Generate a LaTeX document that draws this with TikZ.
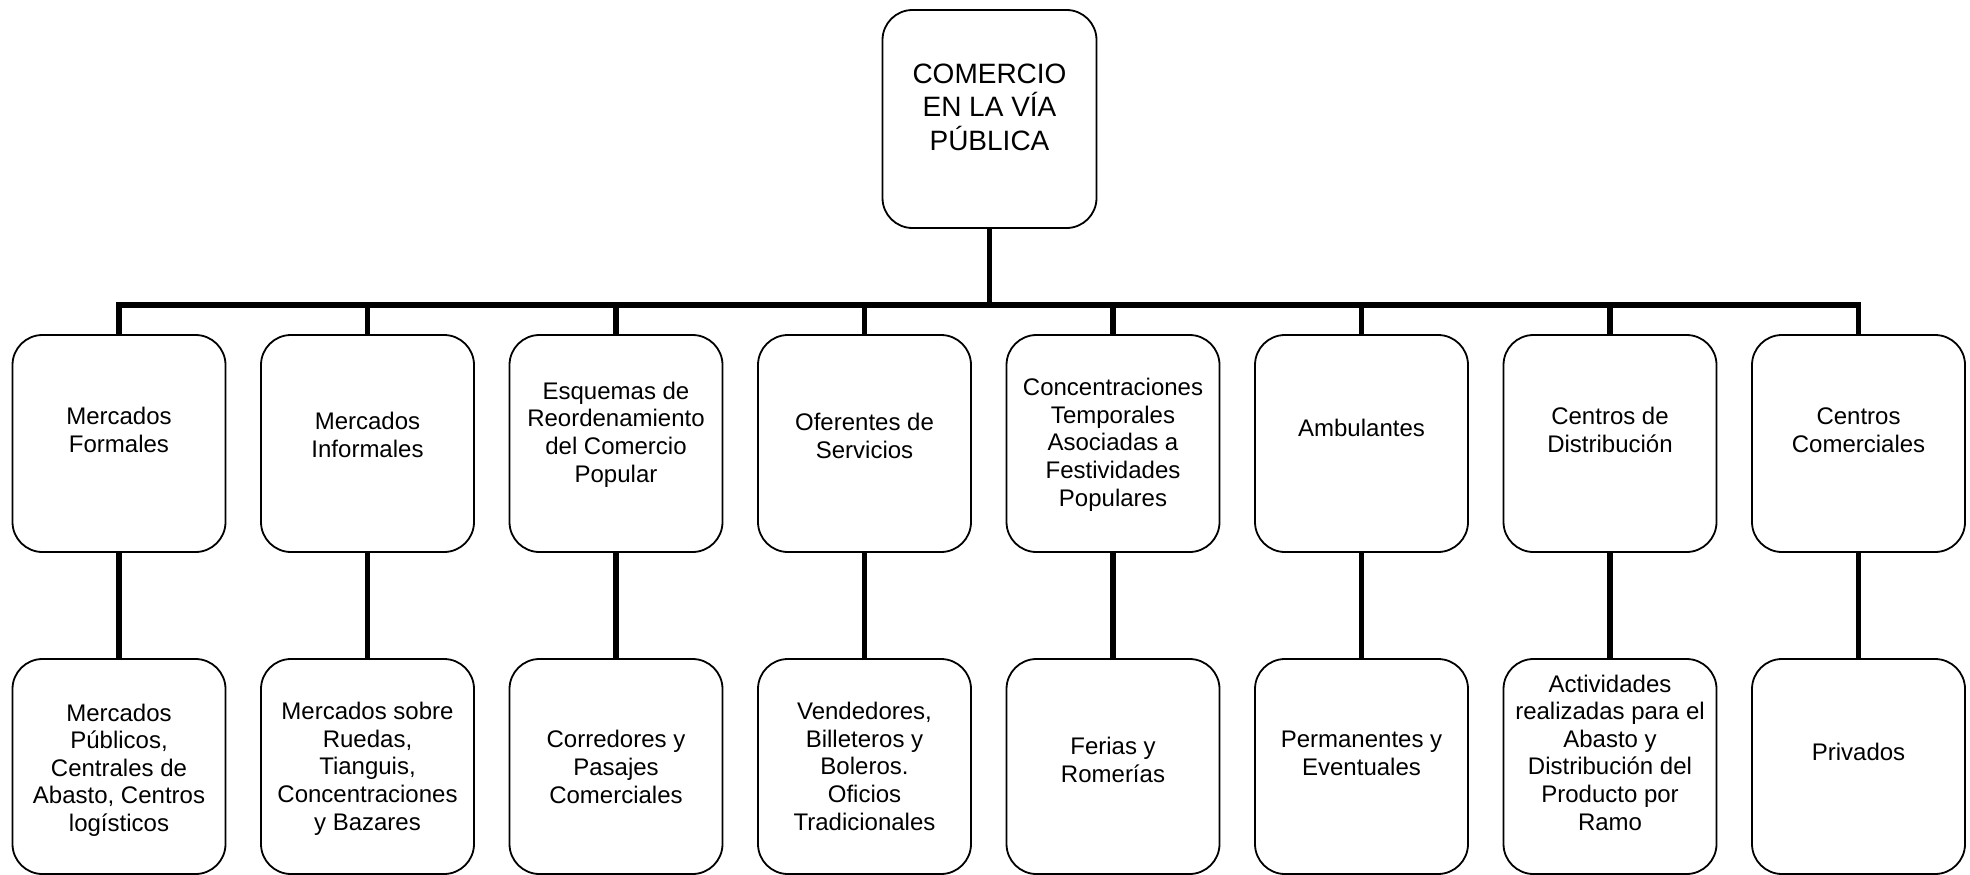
\documentclass[tikz,border=0pt]{standalone}
\usepackage{fontspec}
\setmainfont{Liberation Sans}
\begin{document}
\begin{tikzpicture}[x=1pt,y=-1pt,
  box/.style={draw, line width=1.8pt, rounded corners=30pt, minimum width=213pt, minimum height=217pt, inner sep=0pt},
  lowbox/.style={box, minimum height=215pt},
  txt/.style={anchor=base, align=center, font=\fontsize{24}{27.6}\selectfont, inner sep=0pt},
  toptxt/.style={anchor=base, align=center, font=\fontsize{28}{33.5}\selectfont, inner sep=0pt},
  conn/.style={line width=5.5pt}]
\useasboundingbox (0,0) rectangle (1970,875);
% top
\node[box, minimum width=214pt, minimum height=218pt] (top) at (989.5,119) {};
\node[toptxt] (ttop) at (989.5,150) {COMERCIO\\EN LA VÍA\\PÚBLICA};
% row 1 boxes
\node[box] (a1) at (119,443.5) {};
\node[box] (a2) at (367.5,443.5) {};
\node[box] (a3) at (616,443.5) {};
\node[box] (a4) at (864.5,443.5) {};
\node[box] (a5) at (1113,443.5) {};
\node[box] (a6) at (1361.5,443.5) {};
\node[box] (a7) at (1610,443.5) {};
\node[box] (a8) at (1858.5,443.5) {};
% row 2 boxes
\node[lowbox] (b1) at (119,766.5) {};
\node[lowbox] (b2) at (367.5,766.5) {};
\node[lowbox] (b3) at (616,766.5) {};
\node[lowbox] (b4) at (864.5,766.5) {};
\node[lowbox] (b5) at (1113,766.5) {};
\node[lowbox] (b6) at (1361.5,766.5) {};
\node[lowbox] (b7) at (1610,766.5) {};
\node[lowbox] (b8) at (1858.5,766.5) {};
% row 1 texts (anchor = baseline of last line)
\node[txt] (ta1) at (119,452) {Mercados\\Formales};
\node[txt] (ta2) at (367.5,457.5) {Mercados\\Informales};
\node[txt] (ta3) at (616,482) {Esquemas de\\Reordenamiento\\del Comercio\\Popular};
\node[txt] (ta4) at (864.5,458) {Oferentes de\\Servicios};
\node[txt] (ta5) at (1113,506) {Concentraciones\\Temporales\\Asociadas a\\Festividades\\Populares};
\node[txt] (ta6) at (1361.5,436) {Ambulantes};
\node[txt] (ta7) at (1610,452) {Centros de\\Distribución};
\node[txt] (ta8) at (1858.5,452) {Centros\\Comerciales};
% row 2 texts
\node[txt] (tb1) at (119,831.5) {Mercados\\Públicos,\\Centrales de\\Abasto, Centros\\logísticos};
\node[txt] (tb2) at (367.5,830) {Mercados sobre\\Ruedas,\\Tianguis,\\Concentraciones\\y Bazares};
\node[txt] (tb3) at (616,803) {Corredores y\\Pasajes\\Comerciales};
\node[txt] (tb4) at (864.5,830) {Vendedores,\\Billeteros y\\Boleros.\\Oficios\\Tradicionales};
\node[txt] (tb5) at (1113,782) {Ferias y\\Romerías};
\node[txt] (tb6) at (1361.5,775) {Permanentes y\\Eventuales};
\node[txt] (tb7) at (1610,830) {Actividades\\realizadas para el\\Abasto y\\Distribución del\\Producto por\\Ramo};
\node[txt] (tb8) at (1858.5,760) {Privados};
% connectors
\coordinate (bus) at (989.5,305);
\draw[conn] (top.south) -- (top.south |- bus);
\draw[conn, line join=miter] (a1.north) -- (a1.north |- bus) -- (a8.north |- bus) -- (a8.north);
\foreach \i in {2,...,7} {\draw[conn] (a\i.north |- bus) -- (a\i.north);}
\foreach \i in {1,...,8} {\draw[conn] (a\i.south) -- (b\i.north);}
\end{tikzpicture}
\end{document}
